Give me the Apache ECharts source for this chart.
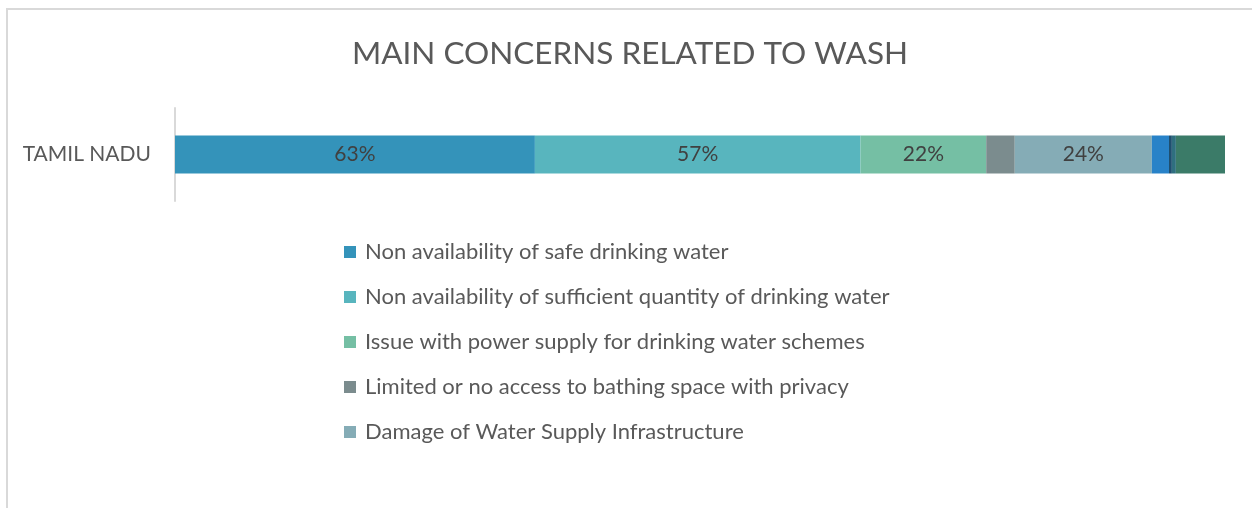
<!DOCTYPE html>
<html>
<head>
<meta charset="utf-8">
<script src="https://cdn.jsdelivr.net/npm/echarts@6/dist/echarts.min.js"></script>
<style>
  html, body { margin: 0; padding: 0; background: #fff; }
  #chart { width: 1252px; height: 508px; }
</style>
</head>
<body>
<div id="chart"></div>
<script>
var categories = ["TAMIL NADU"];

var seriesNames = [
  "Non availability of safe drinking water",
  "Non availability of sufficient quantity of drinking water",
  "Issue with power supply for drinking water schemes",
  "Limited or no access to bathing space with privacy",
  "Damage of Water Supply Infrastructure",
  "Other concern 1",
  "Other concern 2",
  "Other concern 3",
  "Other concern 4"
];

// percent of respondents, one value per category
var seriesValues = [63, 57, 22, 5, 24, 3, 0.5, 0.7, 8.6];

// only the big segments carry a label in the picture
var showLabel = [true, true, true, false, true, false, false, false, false];

var colors = ["#3493ba", "#58b5be", "#75bfa4", "#7b8c8e", "#85acb6",
              "#2882c8", "#1f4f6f", "#2f6f80", "#3b7b68"];

var legendNames = seriesNames.slice(0, 5);

var total = seriesValues.reduce(function(a, b) { return a + b; }, 0);

var series = seriesNames.map(function(name, i) {
  return {
    name: name,
    type: "bar",
    stack: "all",
    barWidth: 38,
    data: [seriesValues[i]],
    itemStyle: { color: colors[i] },
    label: {
      show: showLabel[i],
      position: "inside",
      formatter: "{c}%",
      color: "#404040",
      fontFamily: "Lato",
      fontSize: 21
    }
  };
});

var chart = echarts.init(document.getElementById("chart"));
chart.setOption({
  animation: false,
  title: {
    text: "MAIN CONCERNS RELATED TO WASH",
    left: 630,
    textAlign: "center",
    top: 33,
    textStyle: { color: "#595959", fontFamily: "Lato", fontSize: 31.5, fontWeight: "normal" }
  },
  grid: { left: 175, right: 27, top: 108, bottom: 307 },
  xAxis: {
    type: "value",
    min: 0,
    max: total,
    show: false
  },
  yAxis: {
    type: "category",
    data: categories,
    axisLine: { show: true, lineStyle: { color: "#d9d9d9", width: 2 } },
    axisTick: { show: false },
    axisLabel: { color: "#595959", fontFamily: "Lato", fontSize: 21, margin: 24 }
  },
  legend: {
    data: legendNames,
    orient: "vertical",
    left: 344,
    top: 241,
    padding: 0,
    itemWidth: 12,
    itemHeight: 12,
    itemGap: 23,
    icon: "rect",
    textStyle: { color: "#595959", fontFamily: "Lato", fontSize: 22, lineHeight: 22, padding: [0, 0, 0, 4] }
  },
  graphic: [{
    type: "polyline",
    shape: { points: [[7, 508], [7, 9], [1252, 9]] },
    style: { stroke: "#d9d9d9", lineWidth: 2, fill: null }
  }],
  series: series
});
chart.setOption({ title: { left: 625 } });
</script>
</body>
</html>
